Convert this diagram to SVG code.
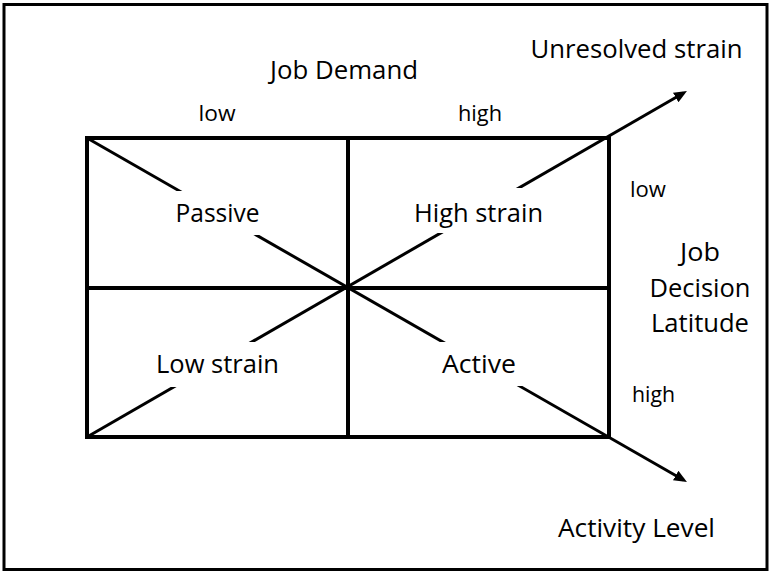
<svg xmlns="http://www.w3.org/2000/svg" width="771" height="572" viewBox="0 0 771 572">
<style>
.big{font-family:"Open Sans","Liberation Sans",sans-serif;font-size:26px;fill:#000}
.small{font-family:"Open Sans","Liberation Sans",sans-serif;font-size:22px;fill:#000}
.grid{fill:none;stroke:#000;stroke-width:4}
.diag{fill:none;stroke:#000;stroke-width:3}
.mask{fill:#fff;stroke:none}
</style>
<defs>
<marker id="arrow" markerUnits="userSpaceOnUse" markerWidth="13" markerHeight="11" refX="9" refY="5.5" orient="auto">
<path d="M0,0 L13,5.5 L0,11 z" fill="#000"/>
</marker>
</defs>
<rect x="0" y="0" width="771" height="572" fill="#fff"/>
<rect x="4" y="4.5" width="763" height="565" fill="none" stroke="#000" stroke-width="3"/>
<g id="grid">
<rect class="grid" x="87" y="138" width="522" height="299"/>
<line class="grid" x1="348" y1="138" x2="348" y2="437"/>
<line class="grid" x1="87" y1="288" x2="609" y2="288"/>
</g>
<g id="connectors">
<line class="diag" x1="87" y1="138" x2="683.5" y2="480" marker-end="url(#arrow)"/>
<line class="diag" x1="87" y1="437" x2="683.5" y2="93" marker-end="url(#arrow)"/>
</g>
<g id="passive">
<rect class="mask" x="168" y="191" width="98" height="44"/>
<text class="big" x="217.5" y="222" text-anchor="middle" textLength="84" lengthAdjust="spacingAndGlyphs">Passive</text>
</g>
<g id="high-strain">
<rect class="mask" x="410" y="188" width="138" height="45"/>
<text class="big" x="478.5" y="222" text-anchor="middle" textLength="129" lengthAdjust="spacingAndGlyphs">High strain</text>
</g>
<g id="low-strain">
<rect class="mask" x="150" y="342" width="135" height="45"/>
<text class="big" x="217.5" y="373" text-anchor="middle" textLength="123" lengthAdjust="spacingAndGlyphs">Low strain</text>
</g>
<g id="active">
<rect class="mask" x="435" y="342" width="90" height="44"/>
<text class="big" x="479" y="373" text-anchor="middle" textLength="74" lengthAdjust="spacingAndGlyphs">Active</text>
</g>
<g id="job-demand">
<text class="big" x="344" y="79" text-anchor="middle" textLength="148" lengthAdjust="spacingAndGlyphs">Job Demand</text>
</g>
<g id="demand-low">
<text class="small" x="217" y="121" text-anchor="middle" textLength="37" lengthAdjust="spacingAndGlyphs">low</text>
</g>
<g id="demand-high">
<text class="small" x="480" y="121" text-anchor="middle" textLength="44" lengthAdjust="spacingAndGlyphs">high</text>
</g>
<g id="unresolved-strain">
<text class="big" x="636.5" y="58" text-anchor="middle" textLength="212" lengthAdjust="spacingAndGlyphs">Unresolved strain</text>
</g>
<g id="activity-level">
<text class="big" x="636.5" y="537" text-anchor="middle" textLength="157" lengthAdjust="spacingAndGlyphs">Activity Level</text>
</g>
<g id="latitude-low">
<text class="small" x="630" y="197" textLength="36" lengthAdjust="spacingAndGlyphs">low</text>
</g>
<g id="latitude-high">
<text class="small" x="632" y="402" textLength="43" lengthAdjust="spacingAndGlyphs">high</text>
</g>
<g id="job-decision-latitude">
<text class="big" x="700" y="261" text-anchor="middle" textLength="40" lengthAdjust="spacingAndGlyphs">Job</text>
<text class="big" x="700" y="297" text-anchor="middle" textLength="101" lengthAdjust="spacingAndGlyphs">Decision</text>
<text class="big" x="700" y="332" text-anchor="middle" textLength="98" lengthAdjust="spacingAndGlyphs">Latitude</text>
</g>
</svg>
